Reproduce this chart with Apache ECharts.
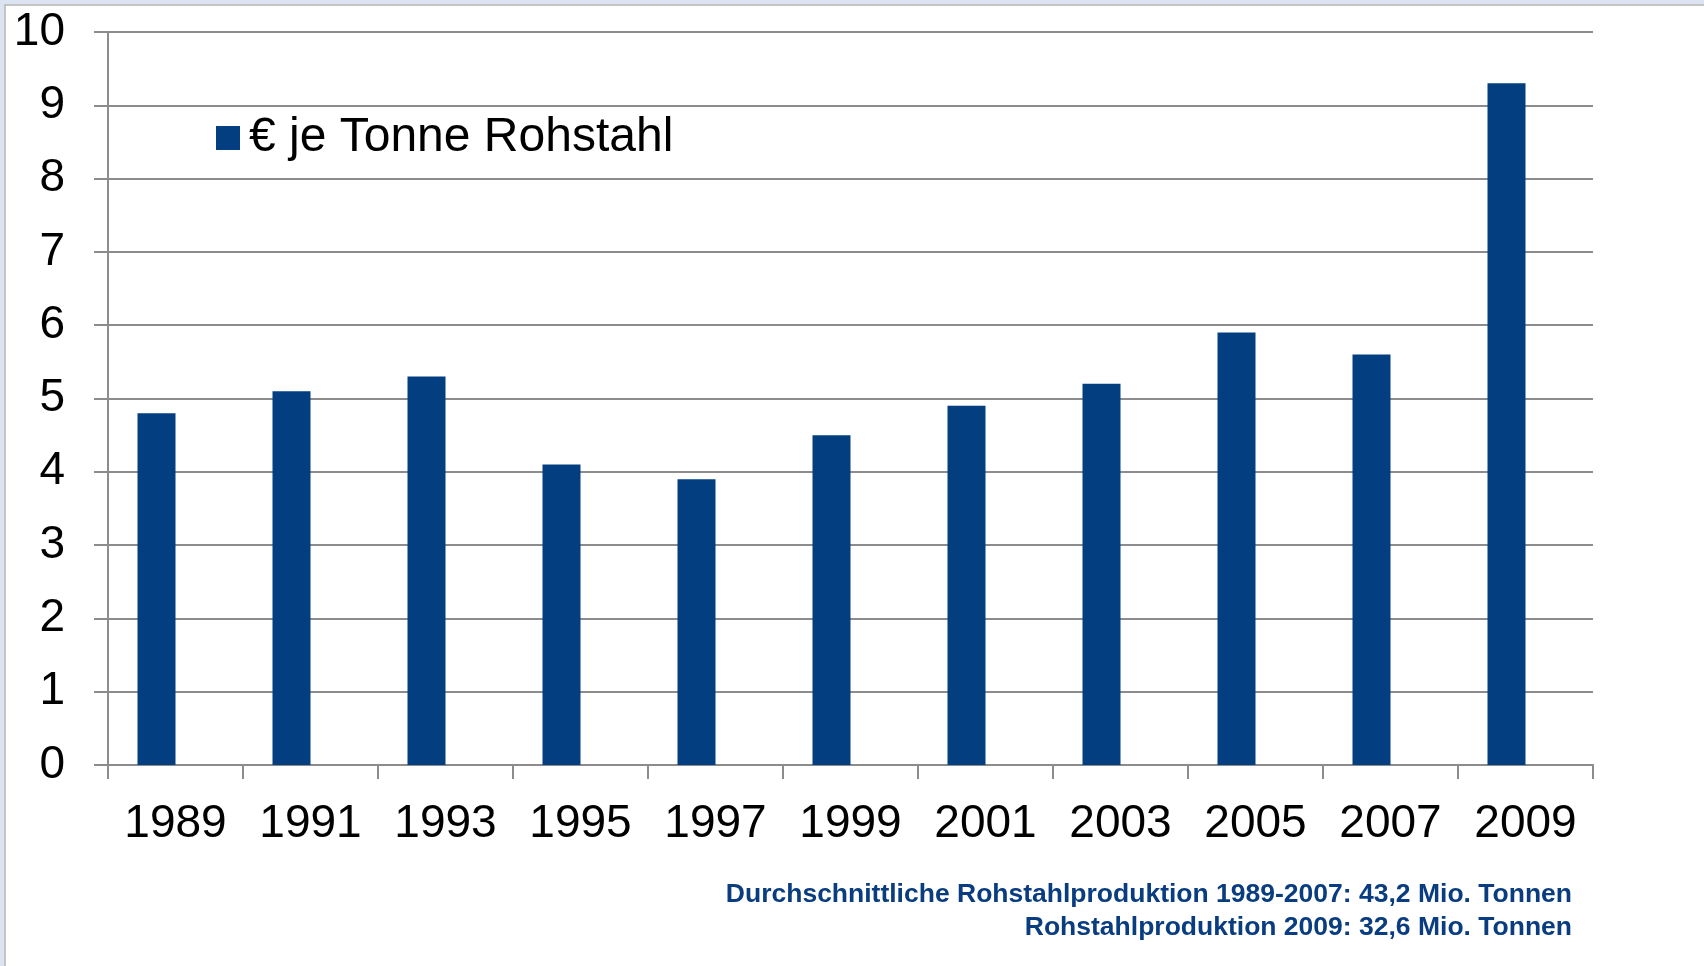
<!DOCTYPE html>
<html>
<head>
<meta charset="utf-8">
<script src="https://cdn.jsdelivr.net/npm/echarts@6/dist/echarts.min.js"></script>
<style>
  html, body { margin: 0; padding: 0; background: #ffffff; }
  #chart { width: 1704px; height: 966px; }
</style>
</head>
<body>
<div id="chart"></div>
<script>
// Daten
const years = ['1989', '1991', '1993', '1995', '1997', '1999', '2001', '2003', '2005', '2007', '2009']
const euroPerTonne = [4.8, 5.1, 5.3, 4.1, 3.9, 4.5, 4.9, 5.2, 5.9, 5.6, 9.3]
// leere zweite Reihe im Original (Balken sitzen deshalb links von der Mitte)
const emptySeries = [null, null, null, null, null, null, null, null, null, null, null]
const seriesName = '€ je Tonne Rohstahl'
const footnotes = [
  'Durchschnittliche Rohstahlproduktion 1989-2007: 43,2 Mio. Tonnen',
  'Rohstahlproduktion 2009: 32,6 Mio. Tonnen'
]

const font = 'Liberation Sans, Arial, sans-serif'
const gridColor = '#8c8c8c'
const barColor = '#023e80'

const chartBox = echarts.init(document.getElementById('chart'))

const option = {
  backgroundColor: '#ffffff',
  animation: false,
  grid: {
    left: 108,
    right: 111,
    top: 32,
    bottom: 201,
    containLabel: false
  },
  legend: {
    show: true,
    left: 216,
    top: 114,
    padding: 0,
    icon: 'rect',
    itemWidth: 24,
    itemHeight: 24,
    itemGap: 10,
    data: [seriesName],
    textStyle: {
      fontFamily: font,
      fontSize: 48,
      color: '#000000',
      padding: [0, 0, 0, 4]
    }
  },
  xAxis: {
    type: 'category',
    data: years,
    boundaryGap: true,
    axisLine: { show: true, lineStyle: { color: gridColor, width: 2 } },
    axisTick: { show: true, length: 14, lineStyle: { color: gridColor, width: 2 } },
    axisLabel: {
      margin: 36,
      fontFamily: font,
      fontSize: 46,
      color: '#000000'
    },
    splitLine: { show: false }
  },
  yAxis: {
    type: 'value',
    min: 0,
    max: 10,
    interval: 1,
    axisLine: { show: true, lineStyle: { color: gridColor, width: 2 } },
    axisTick: { show: true, length: 14, lineStyle: { color: gridColor, width: 2 } },
    axisLabel: {
      margin: 43,
      fontFamily: font,
      fontSize: 46,
      color: '#000000'
    },
    splitLine: { show: true, lineStyle: { color: gridColor, width: 2 } }
  },
  series: [
    {
      name: seriesName,
      type: 'bar',
      data: euroPerTonne,
      barWidth: 38,
      barGap: '0%',
      itemStyle: { color: barColor }
    },
    {
      name: 'leer',
      type: 'bar',
      data: emptySeries,
      barWidth: 38,
      barGap: '0%',
      silent: true
    }
  ],
  graphic: [
    // hellblauer Rahmen oben und links
    { type: 'rect', left: 0, top: 0, shape: { width: 1704, height: 4 }, style: { fill: '#dbe4f0' }, silent: true },
    { type: 'rect', left: 0, top: 0, shape: { width: 4, height: 966 }, style: { fill: '#dbe4f0' }, silent: true },
    { type: 'rect', left: 4, top: 4, shape: { width: 1700, height: 2 }, style: { fill: '#c4c4c4' }, silent: true },
    { type: 'rect', left: 4, top: 4, shape: { width: 2, height: 962 }, style: { fill: '#c4c4c4' }, silent: true },
    {
      type: 'text',
      right: 132,
      top: 881,
      style: {
        text: footnotes[0],
        font: 'bold 26.5px ' + font,
        fill: '#0a3d80',
        textAlign: 'right'
      }
    },
    {
      type: 'text',
      right: 132,
      top: 914,
      style: {
        text: footnotes[1],
        font: 'bold 26.5px ' + font,
        fill: '#0a3d80',
        textAlign: 'right'
      }
    }
  ]
}

chartBox.setOption(option, true)
</script>
</body>
</html>
